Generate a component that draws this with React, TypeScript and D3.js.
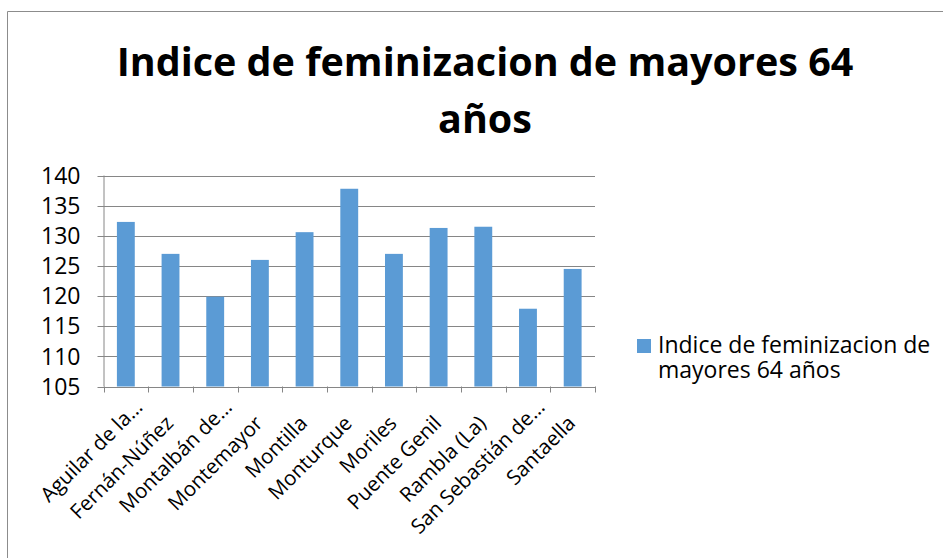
import React, { useEffect, useRef } from "react";
import * as d3 from "d3";

const municipios = [
  "Aguilar de la…",
  "Fernán-Núñez",
  "Montalbán de…",
  "Montemayor",
  "Montilla",
  "Monturque",
  "Moriles",
  "Puente Genil",
  "Rambla (La)",
  "San Sebastián de…",
  "Santaella",
];
const indice = [132.3, 127.0, 119.9, 126.0, 130.6, 137.8, 127.0, 131.3, 131.5, 117.9, 124.5];
const yTicks = [105, 110, 115, 120, 125, 130, 135, 140];
const titleLines = ["Indice de feminizacion de mayores 64", "años"];
const legendLines = ["Indice de feminizacion de", "mayores 64 años"];

const W = 943;
const H = 558;
const font = "'Open Sans', sans-serif";

export default function App() {
  const ref = useRef<SVGSVGElement>(null);

  useEffect(() => {
    const svg = d3.select(ref.current);
    svg.selectAll("*").remove();

    const margin = { top: 175.5, right: 348, bottom: 171.5, left: 103.5 };

    // chart frame, only left + top edges are inside the shot
    svg.append("path")
      .attr("d", `M7.5,${H} V11.5 H${W}`)
      .attr("fill", "none")
      .attr("stroke", "#8c8c8c")
      .attr("stroke-width", 1);

    // title
    const title = svg.append("text")
      .attr("text-anchor", "middle")
      .attr("font-family", font)
      .attr("font-weight", "bold")
      .attr("font-size", 39.5)
      .attr("fill", "#000");
    titleLines.forEach((t, i) => {
      title.append("tspan").attr("x", 485).attr("y", 76 + i * 57).text(t);
    });

    const x = d3.scaleBand<string>()
      .domain(municipios)
      .range([margin.left, W - margin.right]);

    const y = d3.scaleLinear()
      .domain([105, 140])
      .range([H - margin.bottom, margin.top]);

    // gridlines + y tick marks
    svg.append("g")
      .selectAll("line")
      .data(yTicks)
      .join("line")
      .attr("x1", margin.left - 6)
      .attr("x2", W - margin.right)
      .attr("y1", d => Math.round(y(d)) + 0.5)
      .attr("y2", d => Math.round(y(d)) + 0.5)
      .attr("stroke", "#868686");

    svg.append("g")
      .selectAll("text")
      .data(yTicks)
      .join("text")
      .attr("x", margin.left - 23)
      .attr("y", d => y(d))
      .attr("dy", "0.36em")
      .attr("text-anchor", "end")
      .attr("font-family", font)
      .attr("font-size", 23)
      .attr("fill", "#000")
      .text(d => d);

    svg.append("line")
      .attr("x1", margin.left + 0.5)
      .attr("x2", margin.left + 0.5)
      .attr("y1", y(140))
      .attr("y2", y(105))
      .attr("stroke", "#868686");

    // bars (gap width 150%)
    const barW = x.bandwidth() * 0.4;
    svg.append("g")
      .attr("fill", "#5b9bd5")
      .selectAll("rect")
      .data(indice)
      .join("rect")
      .attr("x", (d, i) => x(municipios[i])! + x.bandwidth() / 2 - barW / 2)
      .attr("y", d => y(d))
      .attr("width", barW)
      .attr("height", d => y(105) - y(d));

    // x axis, ticks between categories
    const x0 = H - margin.bottom;
    const bounds = municipios.map(m => x(m)!).concat([W - margin.right]);
    svg.append("line")
      .attr("x1", margin.left)
      .attr("x2", W - margin.right)
      .attr("y1", Math.round(x0) + 0.5)
      .attr("y2", Math.round(x0) + 0.5)
      .attr("stroke", "#868686");
    svg.append("g")
      .selectAll("line")
      .data(bounds)
      .join("line")
      .attr("x1", d => Math.round(d) + 0.5)
      .attr("x2", d => Math.round(d) + 0.5)
      .attr("y1", x0)
      .attr("y2", x0 + 6)
      .attr("stroke", "#868686");

    // rotated labels; truncated ones sit closer to the axis like excel does
    svg.append("g")
      .selectAll("text")
      .data(municipios)
      .join("text")
      .attr("transform", d => {
        const cut = d.endsWith("…");
        const cx = x(d)! + x.bandwidth() / 2 + (cut ? 18 : 4);
        const cy = x0 + (cut ? 22 : 38);
        return `translate(${cx},${cy}) rotate(-45)`;
      })
      .attr("text-anchor", "end")
      .attr("font-family", font)
      .attr("font-size", 20.5)
      .attr("fill", "#000")
      .text(d => d);

    // legend
    svg.append("rect")
      .attr("x", 637)
      .attr("y", 339)
      .attr("width", 14)
      .attr("height", 14)
      .attr("fill", "#5b9bd5");
    legendLines.forEach((t, i) => {
      svg.append("text")
        .attr("x", 658)
        .attr("y", 353 + i * 25)
        .attr("font-family", font)
        .attr("font-size", 23)
        .attr("fill", "#000")
        .text(t);
    });
  }, []);

  return (
    <div id="chart">
      <svg
        ref={ref}
        width={W}
        height={H}
        style={{ position: "absolute", left: 0, top: 0, background: "#fff" }}
      ></svg>
    </div>
  );
}
